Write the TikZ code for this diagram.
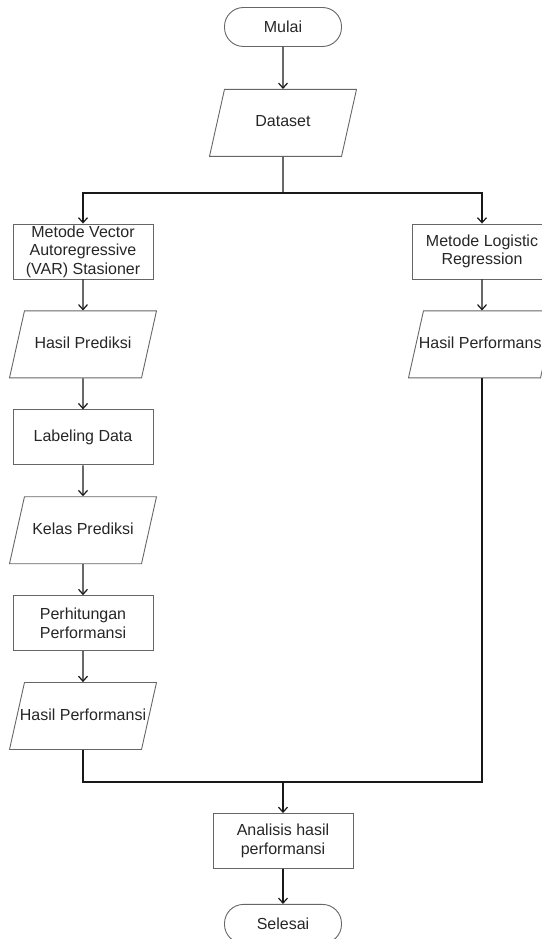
\documentclass[tikz,border=0pt]{standalone}
\usepackage{fontspec}
\setmainfont{Liberation Sans}
\usetikzlibrary{arrows.meta,positioning,shapes.geometric}

\begin{document}
\begin{tikzpicture}[
  x=1pt, y=-1pt,
  node distance=31pt,
  font=\fontsize{16}{18.5}\selectfont,
  base/.style={draw=black!60, line width=0.9pt, text=black!85, align=center},
  term/.style={base, rounded corners=19pt, minimum width=117pt, minimum height=39pt},
  proc/.style={base, minimum width=140pt, minimum height=55pt, inner sep=1pt},
  io/.style={base, trapezium, trapezium left angle=77.4, trapezium right angle=102.6,
    trapezium stretches body, minimum width=147pt, text height=11pt, text depth=3pt,
    inner ysep=26.5pt, inner xsep=-5pt},
  line/.style={line width=1.2pt, black!90},
  >={Straight Barb[length=5pt,width=9pt]}
]
  \useasboundingbox (0,0) rectangle (541,939);

  \node[term] (mulai) at (283,27) {Mulai};
  \node[io, below=42pt of mulai] (dataset) {Dataset};
  \coordinate (split) at (283,193);

  % kolom kiri
  \node[proc] (var) at (83,251.5) {Metode Vector\\Autoregressive\\(VAR) Stasioner};
  \node[io, below=of var] (prediksi) {Hasil Prediksi};
  \node[proc, below=of prediksi] (labeling) {Labeling Data};
  \node[io, below=of labeling] (kelas) {Kelas Prediksi};
  \node[proc, below=of kelas] (hitung) {Perhitungan\\Performansi};
  \node[io, below=of hitung] (perfvar) {Hasil Performansi};

  % kolom kanan
  \node[proc] (logit) at (482,251.5) {Metode Logistic\\Regression};
  \node[io, below=of logit] (perflr) {Hasil Performansi};

  \coordinate (join) at (283,782);
  \node[proc] (analisis) at (283,841) {Analisis hasil\\performansi};
  \node[term, below=35pt of analisis] (selesai) {Selesai};

  \draw[line, ->] (mulai) -- (dataset);
  \draw[line] (dataset) -- (split);
  \draw[line, ->] (split) -| (var);
  \draw[line, ->] (split) -| (logit);
  \draw[line, ->] (var) -- (prediksi);
  \draw[line, ->] (prediksi) -- (labeling);
  \draw[line, ->] (labeling) -- (kelas);
  \draw[line, ->] (kelas) -- (hitung);
  \draw[line, ->] (hitung) -- (perfvar);
  \draw[line, ->] (logit) -- (perflr);
  \draw[line] (perfvar) |- (join);
  \draw[line] (perflr) |- (join);
  \draw[line, ->] (join) -- (analisis);
  \draw[line, ->] (analisis) -- (selesai);
\end{tikzpicture}
\end{document}
